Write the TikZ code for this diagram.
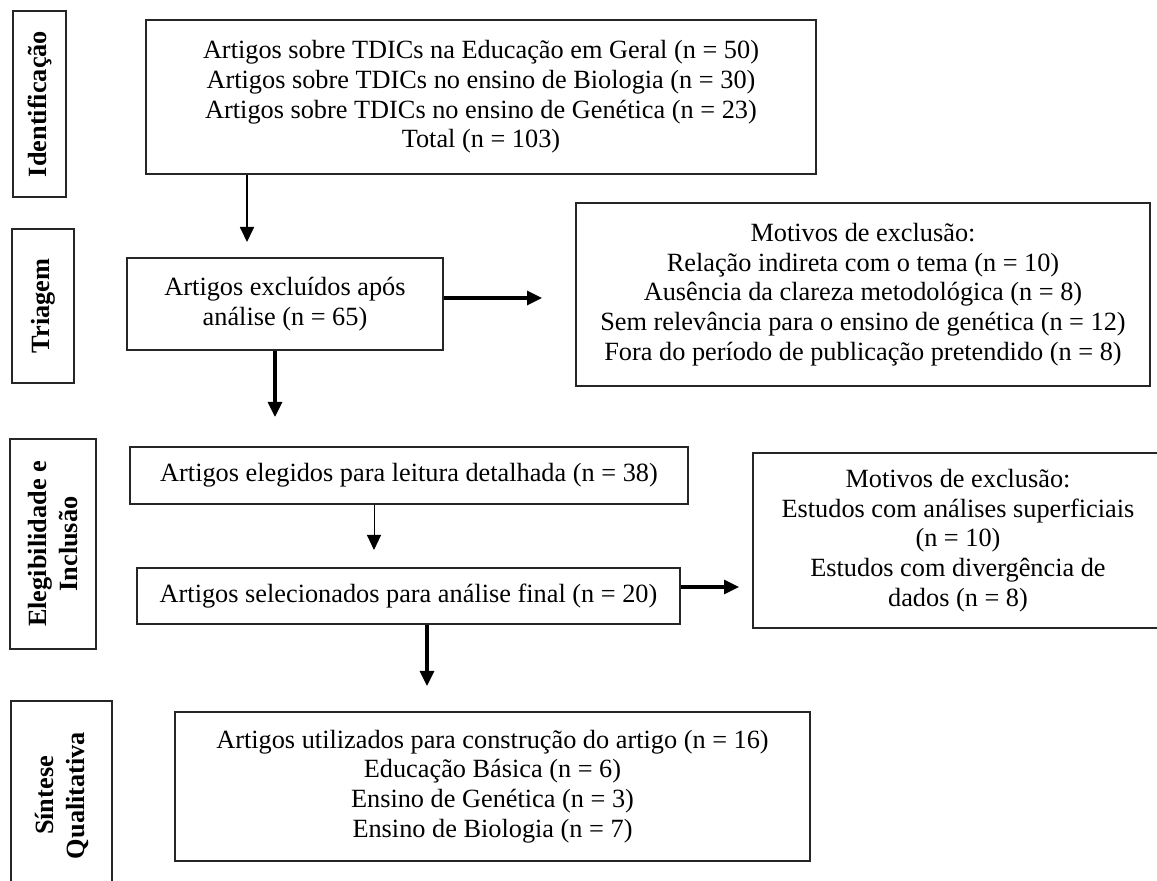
\documentclass[tikz,border=0pt]{standalone}
\usepackage{fontspec}
\setmainfont{Liberation Serif}
\usetikzlibrary{arrows.meta}

\begin{document}
\begin{tikzpicture}[x=0.5pt,y=-0.5pt]
		\tikzstyle {stage box} = [draw=black!85, line width=0.7pt, align=center, inner sep=0pt,
			font=\fontsize{13.15}{14.8}\selectfont]
		\tikzstyle {phase label} = [stage box, rotate=90, font=\fontsize{13.15}{15.5}\selectfont\bfseries]
		\tikzstyle {flow arrow} = [-{Triangle[length=7.5pt,width=7pt]}, line width=0.9pt]
		\tikzstyle {thick arrow} = [flow arrow, line width=1.6pt]
		\tikzstyle {thin arrow} = [flow arrow, line width=0.5pt]

		\useasboundingbox (0,0) rectangle (1157,881);

		% phase labels on the left
		\node[phase label, minimum width=93pt, minimum height=26.5pt] (identificacao) at (39.5,104) {Identificação};
		\node[phase label, minimum width=77pt, minimum height=31pt] (triagem) at (43,306) {Triagem};
		\node[phase label, minimum width=105pt, minimum height=43pt] (elegibilidade) at (53,544) {Elegibilidade e\\Inclusão};
		\node[phase label, minimum width=94.5pt, minimum height=50.5pt] (sintese) at (61.5,795.5) {Síntese\\Qualitativa};

		% boxes of the flow
		\node[stage box, minimum width=335pt, minimum height=77pt] (total) at (481,97)
			{Artigos sobre TDICs na Educação em Geral (n = 50)\\
			 Artigos sobre TDICs no ensino de Biologia (n = 30)\\
			 Artigos sobre TDICs no ensino de Genética (n = 23)\\
			 Total (n = 103)};
		\node[stage box, minimum width=158pt, minimum height=46pt] (excluidos) at (285,304)
			{Artigos excluídos após\\análise (n = 65)};
		\node[stage box, minimum width=287pt, minimum height=91.5pt] (motivos1) at (863,294.5)
			{Motivos de exclusão:\\
			 Relação indireta com o tema (n = 10)\\
			 Ausência da clareza metodológica (n = 8)\\
			 Sem relevância para o ensino de genética (n = 12)\\
			 Fora do período de publicação pretendido (n = 8)};
		\node[stage box, minimum width=279pt, minimum height=28.5pt] (elegidos) at (409,475.5)
			{Artigos elegidos para leitura detalhada (n = 38)};
		\node[stage box, minimum width=271.5pt, minimum height=28pt] (selecionados) at (408.5,596)
			{Artigos selecionados para análise final (n = 20)};
		\node[stage box, minimum width=205pt, minimum height=87.5pt] (motivos2) at (958,540.5)
			{Motivos de exclusão:\\
			 Estudos com análises superficiais\\
			 (n = 10)\\
			 Estudos com divergência de\\
			 dados (n = 8)};
		\node[stage box, minimum width=317.5pt, minimum height=74.5pt] (utilizados) at (492.5,786.5)
			{Artigos utilizados para construção do artigo (n = 16)\\
			 Educação Básica (n = 6)\\
			 Ensino de Genética (n = 3)\\
			 Ensino de Biologia (n = 7)};

		% free ends of the arrows
		\coordinate (tip1) at (247,242);
		\coordinate (tip2) at (542,298);
		\coordinate (tip3) at (275,417);
		\coordinate (tip4) at (374,550);
		\coordinate (tip5) at (739,587);
		\coordinate (tip6) at (427,686);

		\draw[flow arrow] (total.south -| tip1) -- (tip1);
		\draw[thick arrow] (excluidos.east |- tip2) -- (tip2);
		\draw[thick arrow] (excluidos.south -| tip3) -- (tip3);
		\draw[thin arrow] (elegidos.south -| tip4) -- (tip4);
		\draw[thick arrow] (selecionados.east |- tip5) -- (tip5);
		\draw[thick arrow] (selecionados.south -| tip6) -- (tip6);
	\end{tikzpicture}
\end{document}
